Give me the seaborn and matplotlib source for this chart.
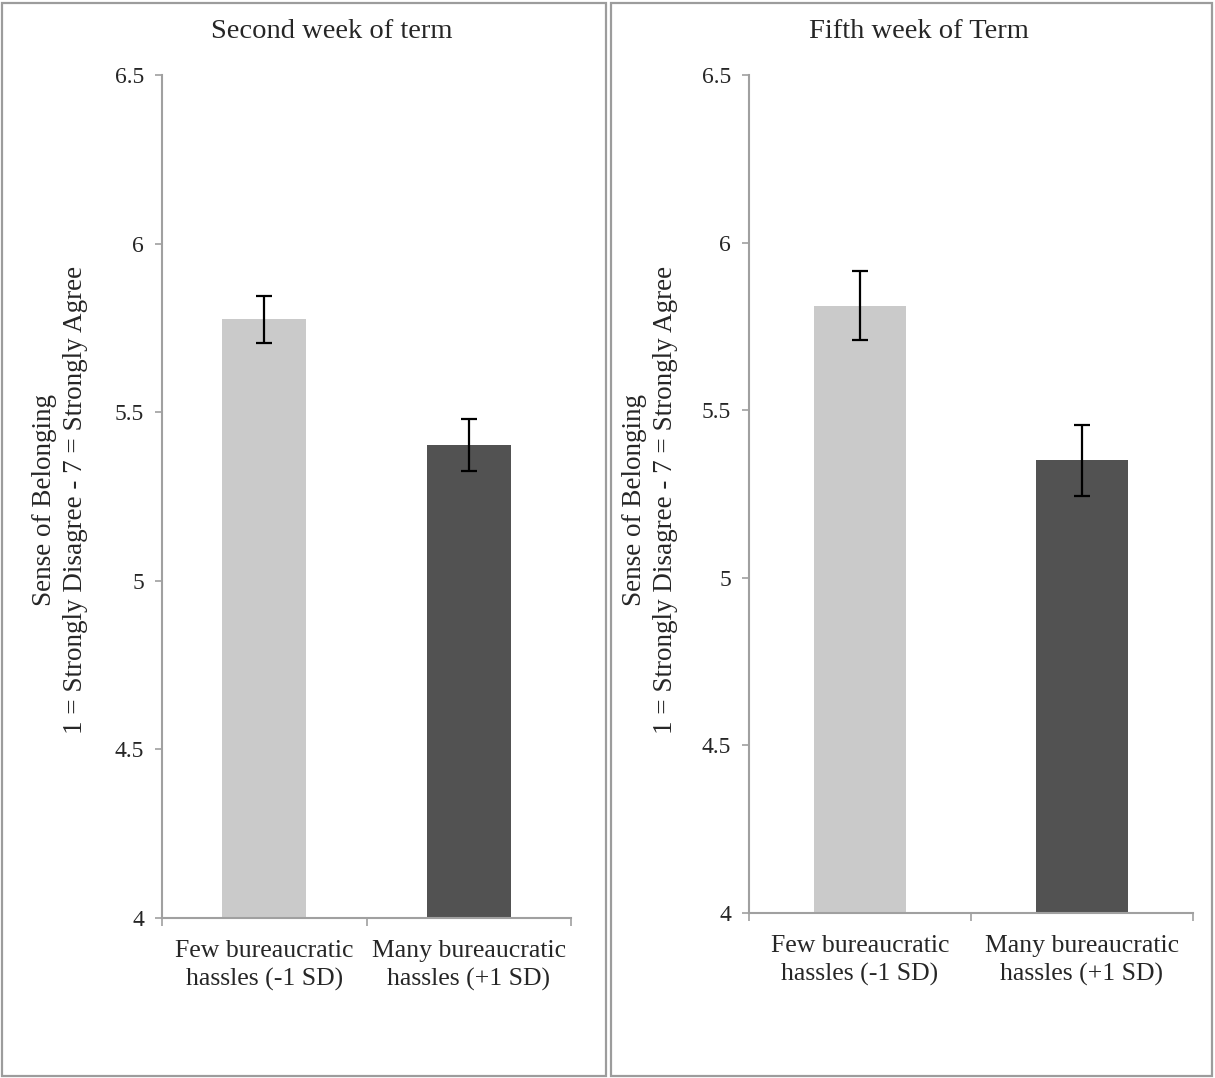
import numpy as np
import pandas as pd
import seaborn as sns
import matplotlib.pyplot as plt
from matplotlib.patches import Rectangle

# data
conditions = ['Few bureaucratic\nhassles (-1 SD)', 'Many bureaucratic\nhassles (+1 SD)']
week2_means = [5.775, 5.403]
week2_err = [0.07, 0.076]
week5_means = [5.812, 5.351]
week5_err = [0.104, 0.106]
panel_titles = ['Second week of term', 'Fifth week of Term']
y_ticks = [4, 4.5, 5, 5.5, 6, 6.5]
y_tick_labels = ['4', '4.5', '5', '5.5', '6', '6.5']
bar_colors = ['#cacaca', '#525252']
ylabel_text = 'Sense of Belonging\n1 = Strongly Disagree - 7 = Strongly Agree'

sns.set_style('white')
plt.rcParams['font.family'] = ['Liberation Serif', 'DejaVu Serif']

W, H = 1215, 1078
fig = plt.figure(figsize=(W / 100, H / 100), dpi=100)

def px_box(x0, x1, y_top, y_bot):
    return [x0 / W, 1 - y_bot / H, (x1 - x0) / W, (y_bot - y_top) / H]

# panel frames
for x0, x1 in [(2, 606), (611, 1212)]:
    fig.add_artist(Rectangle((x0 / W, 2 / H), (x1 - x0) / W, (H - 5) / H,
                             transform=fig.transFigure, fill=False,
                             edgecolor='#9c9c9c', linewidth=1.6))

panels = [
    dict(box=px_box(162, 571, 75, 918), means=week2_means, err=week2_err,
         title=panel_titles[0], title_x=332, ylab_x=60),
    dict(box=px_box(749, 1193, 75, 913), means=week5_means, err=week5_err,
         title=panel_titles[1], title_x=919, ylab_x=650),
]

for p in panels:
    ax = fig.add_axes(p['box'])
    df = pd.DataFrame({'condition': conditions, 'belonging': p['means']})
    sns.barplot(data=df, x='condition', y='belonging', hue='condition',
                palette=bar_colors, width=0.41, errorbar=None, legend=False,
                ax=ax, linewidth=0)
    ax.errorbar(np.arange(len(conditions)), p['means'], yerr=p['err'],
                fmt='none', ecolor='black', elinewidth=1.6, capsize=5.8,
                capthick=1.6)
    ax.set_ylim(4, 6.5)
    ax.set_xlim(-0.5, 1.5)
    ax.set_yticks(y_ticks)
    ax.set_yticklabels(y_tick_labels)
    ax.set_xlabel('')
    ax.set_ylabel('')
    for side in ['top', 'right']:
        ax.spines[side].set_visible(False)
    for side in ['left', 'bottom']:
        ax.spines[side].set_color('#a0a0a0')
        ax.spines[side].set_linewidth(1.5)
    ax.tick_params(axis='y', which='major', left=True, length=5, width=1.2,
                   color='#a0a0a0', labelsize=17, pad=8)
    ax.set_xticks([0, 1])
    ax.set_xticklabels(conditions)
    ax.tick_params(axis='x', which='major', length=0, labelsize=18.5, pad=16)
    ax.set_xticks([-0.5, 0.5, 1.5], minor=True)
    ax.tick_params(axis='x', which='minor', bottom=True, length=6, width=1.2,
                   color='#a0a0a0')
    for lbl in ax.get_xticklabels():
        lbl.set_multialignment('center')
        lbl.set_linespacing(1.3)

    fig.text(p['title_x'] / W, 1 - 32 / H, p['title'], ha='center',
             va='center', fontsize=20.5)
    fig.text(p['ylab_x'] / W, 1 - 500 / H, ylabel_text, rotation=90,
             ha='center', va='center', multialignment='center',
             fontsize=19.5, linespacing=1.3)

fig.savefig('out.png', dpi=100, facecolor='white')
